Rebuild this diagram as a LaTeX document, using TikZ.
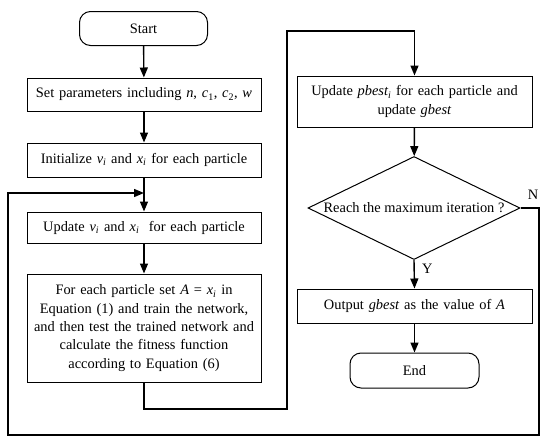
\documentclass[tikz,border=0pt]{standalone}
\usepackage{fontspec}
\setmainfont{Liberation Serif}
\usetikzlibrary{arrows.meta,shapes.geometric}
\newcommand\mysub[1]{\textsubscript{#1}}
\begin{document}
\begin{tikzpicture}[x=1pt,y=-1pt,
  font=\fontsize{14.4}{18.3}\selectfont,
  line width=1pt,
  >={Triangle[width=8pt,length=10pt]},
  box/.style={draw, inner sep=0pt, align=center, text width=#1},
  box/.default=230pt,
  term/.style={draw, rounded corners=11pt, inner sep=0pt, minimum width=128pt, minimum height=34pt},
  conn/.style={->, line width=1.4pt}
]
\useasboundingbox (0,0) rectangle (550,445);
\node[term] (start) at (143.5,28.5) {Start};
\node[box, minimum width=234pt, minimum height=33pt] (set) at (144,94.5) {Set parameters including \textit{n}, \textit{c}\mysub{1}, \textit{c}\mysub{2}, \textit{w}};
\node[box, minimum width=234pt, minimum height=34pt] (init) at (144,160) {Initialize \textit{v\mysub{i}} and \textit{x\mysub{i}} for each particle};
\node[box, minimum width=234pt, minimum height=31pt] (upd) at (144,227.5) {Update \textit{v\mysub{i}} and \textit{x\mysub{i}}\ \ for each particle};
\node[box, minimum width=234pt, minimum height=108pt] (fit) at (144,328) {For each particle set \textit{A} = \textit{x\mysub{i}} in\\Equation (1) and train the network,\\and then test the trained network and\\calculate the fitness function\\according to Equation (6)};
\node[box, minimum width=235pt, minimum height=51pt] (pbest) at (414.5,101.5) {Update \textit{pbest\mysub{i}} for each particle and\\update \textit{gbest}};
\node[draw, diamond, inner sep=0pt, minimum width=212pt, minimum height=103pt] (dia) at (414,208) {};
\node[inner sep=0pt] (diatext) at (dia.center) {Reach the maximum iteration ?};
\node[box, minimum width=235pt, minimum height=34pt] (out) at (414.5,306) {Output \textit{gbest} as the value of \textit{A}};
\node[term, minimum width=129pt, minimum height=35pt] (end) at (414.5,370.5) {End};
\coordinate (merge) at (144,193);
\draw[conn] (start) -- (set);
\draw[conn] (set) -- (init);
\draw[conn] (init) -- (upd);
\draw[conn] (upd) -- (fit);
\draw[conn] (fit.south) |- (287,409) -- (287,31) -| (pbest.north);
\draw[conn] (pbest) -- (dia);
\draw[conn] (dia.south) -- node[right, pos=0.3, xshift=4pt] (ylab) {Y} (out.north);
\draw[conn] (out) -- (end);
\draw[conn] (dia.east) -- (539,208) -- (539,435) -- (8,435) -- (8,193) -- (merge);
\node (nlab) at (533,195) {N};
\end{tikzpicture}
\end{document}
